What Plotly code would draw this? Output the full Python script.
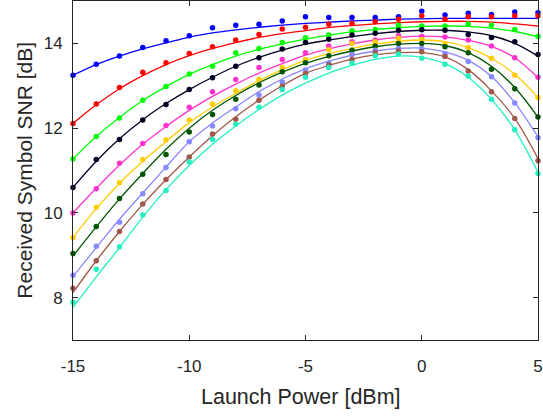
import plotly.graph_objects as go

# launch power grid (dBm)
power = list(range(-15, 6))

colors = ['#0000FF', '#FF0000', '#00FF00', '#000022', '#FF33CC',
          '#FFCC00', '#005500', '#8888FF', '#A0584A', '#22F0C0']

# measured SNR points (dB)
snr_meas = [
    [13.25, 13.51, 13.70, 13.90, 14.06, 14.18, 14.37, 14.43, 14.45, 14.53, 14.63,
     14.61, 14.61, 14.61, 14.63, 14.76, 14.67, 14.71, 14.68, 14.74, 14.72],
    [12.11, 12.57, 12.96, 13.32, 13.54, 13.76, 13.92, 14.08, 14.21, 14.34, 14.38,
     14.45, 14.47, 14.51, 14.57, 14.65, 14.57, 14.63, 14.63, 14.65, 14.65],
    [11.27, 11.80, 12.24, 12.66, 12.98, 13.28, 13.46, 13.78, 13.88, 14.02, 14.13,
     14.20, 14.30, 14.33, 14.43, 14.41, 14.41, 14.46, 14.43, 14.33, 14.16],
    [10.60, 11.26, 11.73, 12.19, 12.56, 12.91, 13.19, 13.46, 13.66, 13.87, 14.02,
     14.10, 14.20, 14.24, 14.31, 14.32, 14.31, 14.21, 14.14, 14.04, 13.74],
    [10.00, 10.57, 11.17, 11.64, 12.06, 12.49, 12.86, 13.15, 13.43, 13.62, 13.78,
     13.94, 14.04, 14.08, 14.18, 14.16, 14.15, 14.08, 13.94, 13.66, 13.20],
    [9.42, 10.13, 10.71, 11.26, 11.72, 12.19, 12.57, 12.88, 13.15, 13.43, 13.62,
     13.85, 14.00, 14.04, 14.12, 14.09, 13.98, 13.90, 13.65, 13.25, 12.72],
    [9.04, 9.68, 10.34, 10.91, 11.38, 11.91, 12.32, 12.68, 13.02, 13.33, 13.54,
     13.71, 13.84, 13.94, 14.00, 14.00, 13.92, 13.78, 13.39, 12.93, 12.26],
    [8.53, 9.21, 9.78, 10.45, 11.07, 11.68, 12.05, 12.46, 12.78, 13.09, 13.37,
     13.53, 13.74, 13.84, 13.88, 13.88, 13.76, 13.57, 13.21, 12.59, 11.77],
    [8.22, 8.87, 9.56, 10.21, 10.79, 11.32, 11.86, 12.21, 12.66, 12.99, 13.29,
     13.49, 13.62, 13.78, 13.82, 13.80, 13.69, 13.35, 12.86, 12.23, 11.23],
    [7.89, 8.67, 9.20, 9.95, 10.53, 11.20, 11.73, 12.09, 12.49, 12.91, 13.20,
     13.43, 13.53, 13.71, 13.75, 13.65, 13.51, 13.23, 12.68, 11.96, 10.93],
]

# model curves (dB), read at the same power grid
snr_model = [
    [13.25, 13.50, 13.70, 13.87, 14.01, 14.15, 14.25, 14.32, 14.38, 14.43, 14.47,
     14.50, 14.53, 14.55, 14.57, 14.58, 14.59, 14.59, 14.59, 14.59, 14.59],
    [12.11, 12.55, 12.93, 13.24, 13.50, 13.71, 13.88, 14.02, 14.14, 14.23, 14.30,
     14.37, 14.42, 14.46, 14.49, 14.51, 14.52, 14.52, 14.50, 14.46, 14.41],
    [11.27, 11.80, 12.25, 12.65, 12.98, 13.27, 13.50, 13.70, 13.86, 13.99, 14.10,
     14.19, 14.27, 14.33, 14.37, 14.40, 14.41, 14.40, 14.36, 14.28, 14.16],
    [10.60, 11.22, 11.75, 12.20, 12.58, 12.91, 13.20, 13.46, 13.67, 13.84, 13.98,
     14.08, 14.16, 14.23, 14.28, 14.31, 14.31, 14.27, 14.18, 14.00, 13.70],
    [10.00, 10.58, 11.13, 11.62, 12.04, 12.42, 12.75, 13.04, 13.30, 13.52, 13.72,
     13.87, 13.99, 14.08, 14.14, 14.17, 14.15, 14.07, 13.93, 13.66, 13.19],
    [9.42, 10.10, 10.70, 11.22, 11.68, 12.13, 12.50, 12.82, 13.12, 13.38, 13.60,
     13.76, 13.88, 13.98, 14.05, 14.08, 14.04, 13.90, 13.65, 13.27, 12.72],
    [8.98, 9.67, 10.33, 10.93, 11.50, 12.00, 12.42, 12.77, 13.07, 13.32, 13.53,
     13.69, 13.82, 13.92, 13.98, 14.00, 13.95, 13.78, 13.46, 12.96, 12.26],
    [8.50, 9.18, 9.85, 10.47, 11.08, 11.68, 12.12, 12.50, 12.86, 13.16, 13.40,
     13.58, 13.72, 13.82, 13.88, 13.89, 13.80, 13.60, 13.22, 12.60, 11.79],
    [8.12, 8.87, 9.56, 10.20, 10.78, 11.32, 11.82, 12.27, 12.66, 13.00, 13.29,
     13.48, 13.63, 13.73, 13.78, 13.78, 13.68, 13.38, 12.88, 12.23, 11.28],
    [7.77, 8.49, 9.18, 9.90, 10.55, 11.12, 11.62, 12.05, 12.44, 12.78, 13.06,
     13.30, 13.48, 13.62, 13.70, 13.67, 13.52, 13.20, 12.68, 11.96, 10.96],
]

x_ticks = [-15, -10, -5, 0, 5]
x_ticktext = ['-15', '-10', '-5', '0', '5']
y_ticks = [8, 10, 12, 14]

fig = go.Figure()

for col, model, meas in zip(colors, snr_model, snr_meas):
    fig.add_trace(go.Scatter(x=power, y=model, mode='lines',
                             line=dict(color=col, width=1.3, shape='spline', smoothing=1.0),
                             showlegend=False, hoverinfo='skip'))
    fig.add_trace(go.Scatter(x=power, y=meas, mode='markers',
                             marker=dict(color=col, size=5.5),
                             cliponaxis=False, showlegend=False))

axis_style = dict(showgrid=False, zeroline=False, showline=True, linecolor='#262626',
                  linewidth=1, mirror='ticks', ticks='inside', ticklen=5,
                  tickcolor='#262626', tickfont=dict(size=17, color='#262626'),
                  automargin=False)

fig.update_xaxes(range=[-15, 5], tickvals=x_ticks, ticktext=x_ticktext,
                 ticklabelstandoff=11, **axis_style)
fig.update_yaxes(range=[7, 15], tickvals=y_ticks,
                 ticklabelstandoff=6, **axis_style)

# axis titles
fig.add_annotation(text='Launch Power [dBm]', xref='paper', yref='paper',
                   x=0.49, y=-0.168, xanchor='center', yanchor='middle',
                   showarrow=False, font=dict(size=21.5, color='#262626'))
fig.add_annotation(text='Received Symbol SNR [dB]', xref='paper', yref='paper',
                   x=-0.105, y=0.5, xanchor='center', yanchor='middle', textangle=-90,
                   showarrow=False, font=dict(size=21, color='#262626'))

fig.update_layout(width=543, height=417,
                  margin=dict(l=73, r=5, t=1, b=77),
                  plot_bgcolor='white', paper_bgcolor='white',
                  font=dict(family='Liberation Sans, Arial, sans-serif'))

# drop the page's default body margin so the figure sits at the window corner
fig.write_html("out.html", config={'displayModeBar': False},
               post_script="document.body.style.margin='0';")
